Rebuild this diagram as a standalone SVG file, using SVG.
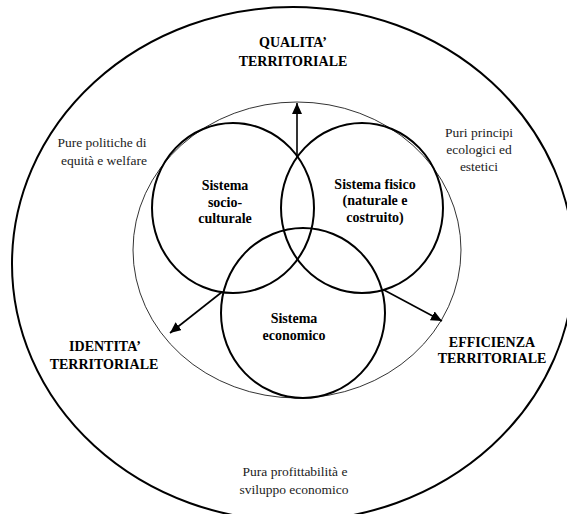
<svg xmlns="http://www.w3.org/2000/svg" width="567" height="514" viewBox="0 0 567 514">
<style>
.shape{fill:none;stroke:#000}
.outer{stroke-width:2}
.thin{stroke-width:0.8}
.sys{stroke-width:2}
.b{font-weight:bold;font-size:14px;fill:#000;text-anchor:middle}
.t{font-size:13.5px;fill:#222;text-anchor:middle}
.conn{stroke:#000;stroke-width:1.6;fill:none}
</style>
<defs>
<marker id="ah" markerUnits="userSpaceOnUse" markerWidth="12" markerHeight="10" refX="11" refY="5" orient="auto">
<path d="M0,0 L11,5 L0,10 z" fill="#000"/>
</marker>
</defs>
<rect width="567" height="514" fill="#fff"/>
<g font-family="'Liberation Serif', 'Times New Roman', 'DejaVu Serif', serif">
<g id="outer">
<ellipse class="shape outer" cx="293" cy="264" rx="281" ry="257"/>
</g>
<g id="inner">
<ellipse class="shape thin" cx="297" cy="250" rx="164" ry="148"/>
</g>
<g id="socio">
<ellipse class="shape sys" cx="233" cy="208" rx="81" ry="85"/>
<text class="b" x="225" y="190">Sistema</text>
<text class="b" x="225" y="207">socio-</text>
<text class="b" x="225" y="223">culturale</text>
</g>
<g id="fisico">
<ellipse class="shape sys" cx="362" cy="208" rx="81" ry="85"/>
<text class="b" x="375" y="189">Sistema fisico</text>
<text class="b" x="375" y="205">(naturale e</text>
<text class="b" x="375" y="222">costruito)</text>
</g>
<g id="economico">
<ellipse class="shape sys" cx="303" cy="313" rx="82" ry="85"/>
<text class="b" x="294" y="323">Sistema</text>
<text class="b" x="294" y="340">economico</text>
</g>
<g id="qualita">
<text class="b" x="293" y="47">QUALITA’</text>
<text class="b" x="293" y="66">TERRITORIALE</text>
</g>
<g id="identita">
<text class="b" x="105" y="351">IDENTITA’</text>
<text class="b" x="104" y="369">TERRITORIALE</text>
</g>
<g id="efficienza">
<text class="b" x="492" y="347">EFFICIENZA</text>
<text class="b" x="492" y="363">TERRITORIALE</text>
</g>
<g id="equita">
<text class="t" x="102" y="147">Pure politiche di</text>
<text class="t" x="104" y="165">equità e welfare</text>
</g>
<g id="ecologici">
<text class="t" x="479" y="137">Puri principi</text>
<text class="t" x="479" y="154">ecologici ed</text>
<text class="t" x="479" y="171">estetici</text>
</g>
<g id="profitto">
<text class="t" x="295" y="476">Pura profittabilità e</text>
<text class="t" x="294" y="494">sviluppo economico</text>
</g>
</g>
<g id="connectors">
<line class="conn" x1="297" y1="157" x2="297" y2="103" marker-end="url(#ah)"/>
<line class="conn" x1="222" y1="292" x2="170" y2="333" marker-end="url(#ah)"/>
<line class="conn" x1="384" y1="290" x2="442" y2="321" marker-end="url(#ah)"/>
</g>
</svg>
